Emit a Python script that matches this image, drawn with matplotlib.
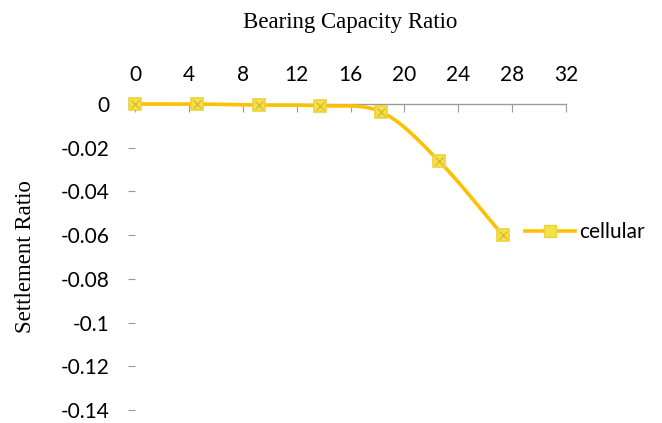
import numpy as np
import matplotlib
matplotlib.use("Agg")
import matplotlib.pyplot as plt
from matplotlib.lines import Line2D

# bearing capacity ratio vs settlement ratio, cellular reinforcement
bcr = [0.0, 4.6, 9.2, 13.7, 18.3, 22.6, 27.3]
settlement = [0.0, 0.0, -0.0005, -0.0008, -0.0037, -0.0263, -0.0600]
series_name = "cellular"

x_ticks = [0, 4, 8, 12, 16, 20, 24, 28, 32]
y_ticks = [0, -0.02, -0.04, -0.06, -0.08, -0.1, -0.12, -0.14]
y_tick_labels = ["0", "-0.02", "-0.04", "-0.06", "-0.08", "-0.1", "-0.12", "-0.14"]

line_col = "#FFC000"
axis_col = "#9a9a9a"


def smooth(xs, ys, n=30):
    # Catmull-Rom spline through the points (Excel style smoothed line)
    xs = np.asarray(xs, float); ys = np.asarray(ys, float)
    px = np.concatenate([[2*xs[0]-xs[1]], xs, [2*xs[-1]-xs[-2]]])
    py = np.concatenate([[2*ys[0]-ys[1]], ys, [2*ys[-1]-ys[-2]]])
    ox, oy = [], []
    t = np.linspace(0, 1, n)
    for i in range(1, len(px)-2):
        for p, out in ((px, ox), (py, oy)):
            p0, p1, p2, p3 = p[i-1], p[i], p[i+1], p[i+2]
            out.extend(0.5*((2*p1) + (-p0+p2)*t + (2*p0-5*p1+4*p2-p3)*t**2
                            + (-p0+3*p1-3*p2+p3)*t**3))
    return ox, oy


fig = plt.figure(figsize=(6.62, 4.23), dpi=100)
ax = fig.add_axes([135/662, 13/423, 431/662, 306/423])

sx, sy = smooth(bcr, settlement)
ax.plot(sx, sy, color=line_col, lw=2.6, zorder=3, solid_capstyle="round",
        clip_on=False)
ax.plot(bcr, settlement, ls="none", marker="s", ms=9, mfc="#F2E448",
        mec="#EED040", mew=1.2, zorder=4, clip_on=False)
ax.plot(bcr, settlement, ls="none", marker="x", ms=6, mec="#DDB830",
        mew=1.0, zorder=5, clip_on=False)

ax.set_xlim(0, 32)
ax.set_ylim(-0.14, 0)
ax.xaxis.set_ticks_position("top")
ax.xaxis.set_label_position("top")
ax.set_xticks(x_ticks)
ax.set_yticks(y_ticks)
ax.set_yticklabels(y_tick_labels)

for s in ["left", "right", "bottom"]:
    ax.spines[s].set_visible(False)
ax.spines["top"].set_color(axis_col)
ax.spines["top"].set_linewidth(1.0)

ax.tick_params(axis="x", direction="in", length=6, color=axis_col, pad=14,
               labelsize=15)
ax.tick_params(axis="y", direction="out", length=5, color=axis_col, pad=13,
               labelsize=15)
for lab in ax.get_xticklabels() + ax.get_yticklabels():
    lab.set_family("Lato")

ax.set_xlabel("Bearing Capacity Ratio", family="Liberation Serif",
              fontsize=16.5, labelpad=26)
ax.set_ylabel("Settlement Ratio", family="Liberation Serif", fontsize=16.5,
              labelpad=18)

handle = Line2D([], [], color=line_col, lw=2.6, marker="s", ms=9,
                mfc="#F2E448", mec="#EED040")
fig.legend([handle], [series_name], loc="center left",
           bbox_to_anchor=(515/662, 1 - 232/423), frameon=False,
           prop={"family": "Lato", "size": 15}, handlelength=2.4,
           handletextpad=0.2, borderpad=0)

fig.savefig("out.png", dpi=100)
